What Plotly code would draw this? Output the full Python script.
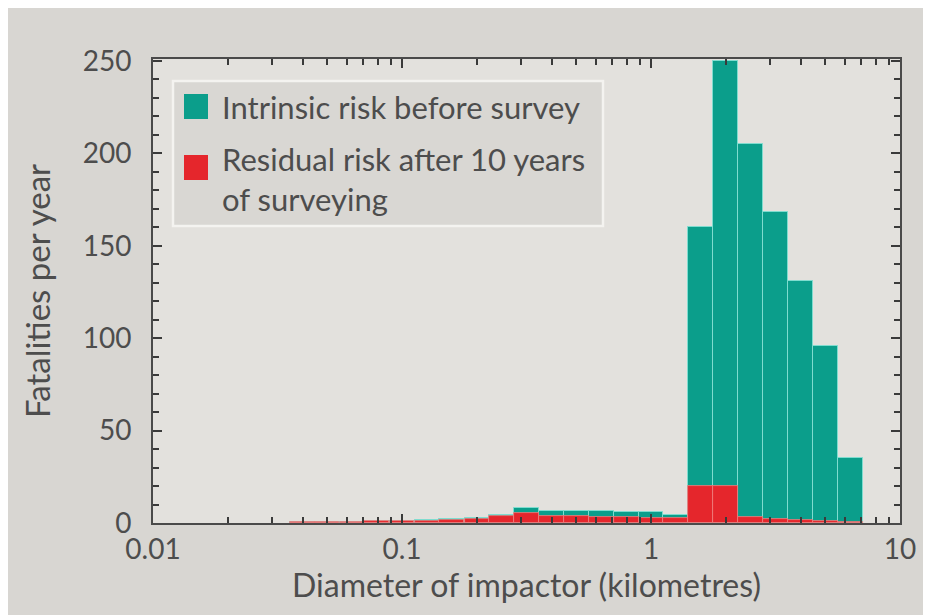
import numpy as np
import plotly.graph_objects as go

# Bin centres (km) of impactor diameter, log-spaced 0.1 dex
diameter_km = [0.040, 0.050, 0.063, 0.079, 0.100, 0.126, 0.158, 0.200, 0.251, 0.316,
               0.398, 0.501, 0.631, 0.794, 1.000, 1.259, 1.585, 1.995, 2.512,
               3.162, 3.981, 5.012, 6.310]
intrinsic = [0.3, 0.5, 0.8, 1.0, 1.3, 1.6, 2.0, 2.5, 4.5, 8.0,
             6.5, 6.5, 6.5, 6.0, 6.0, 4.5, 160, 250, 205,
             168, 131, 96, 35]
residual = [0.3, 0.5, 0.7, 0.9, 1.0, 1.2, 1.5, 2.0, 4.0, 5.5,
            4.0, 4.0, 3.0, 3.0, 2.5, 2.5, 20, 20, 3,
            2, 1.5, 1, 0.5]

x_tick_vals = [0.01, 0.1, 1, 10]
x_tick_text = ["0.01", "0.1", "1", "10"]
legend_names = ["Intrinsic risk before survey", "Residual risk after 10 years<br>of surveying"]

TEAL = "#0b9e8b"
RED = "#e5262c"
FONT = "Lato"
TXT = "#4d4d4d"

lx = np.log10(diameter_km)

fig = go.Figure()
fig.add_trace(go.Bar(x=lx, y=intrinsic, width=0.1, name=legend_names[0],
                     marker=dict(color=TEAL, line=dict(color="#7fdccf", width=1)),
                     showlegend=False))
fig.add_trace(go.Bar(x=lx, y=residual, width=0.1, name=legend_names[1],
                     marker=dict(color=RED, line=dict(color="#f08080", width=0.8)),
                     showlegend=False))

minor_vals = [np.log10(k * 10.0 ** n) for n in (-2, -1, 0) for k in range(2, 10)]

fig.update_layout(
    width=931, height=615,
    margin=dict(l=145, r=39, t=51, b=100),
    paper_bgcolor="#d8d6d2",
    plot_bgcolor="#e3e1dd",
    barmode="overlay", bargap=0,
    font=dict(family=FONT, color=TXT),
    xaxis=dict(range=[-2, 1], tickmode="array",
               tickvals=list(np.log10(x_tick_vals)), ticktext=x_tick_text,
               ticks="inside", ticklen=9, tickwidth=2, tickcolor="#3a3a3a",
               showline=True, linecolor="#4a4a4a", linewidth=2, mirror="allticks",
               showgrid=False, zeroline=False, ticklabelstandoff=0,
               tickfont=dict(size=28, family=FONT, color=TXT),
               minor=dict(tickmode="array", tickvals=minor_vals, ticks="inside",
                          ticklen=6, tickwidth=2, tickcolor="#3a3a3a", showgrid=False),
               title=dict(text="Diameter of impactor (kilometres)",
                          font=dict(size=32, family=FONT, color=TXT), standoff=11)),
    yaxis=dict(range=[0, 251], tickmode="linear", tick0=0, dtick=50,
               ticks="inside", ticklen=9, tickwidth=2, tickcolor="#3a3a3a",
               showline=True,
               linecolor="#4a4a4a", linewidth=2, mirror="allticks",
               showgrid=False, zeroline=False, ticklabelstandoff=14,
               tickfont=dict(size=28, family=FONT, color=TXT),
               minor=dict(dtick=10, ticks="inside", ticklen=6, tickwidth=2,
                          tickcolor="#3a3a3a", showgrid=False),
               title=dict(text="Fatalities per year",
                          font=dict(size=33, family=FONT, color=TXT), standoff=22)),
)

# Legend drawn as a framed box with colour keys
W, H = 747.0, 464.0
def px(x):
    return (x - 145) / W
def py(y):
    return (515 - y) / H

fig.add_shape(type="rect", xref="paper", yref="paper",
              x0=px(165), x1=px(595), y0=py(218), y1=py(73),
              line=dict(color="#f4f3f0", width=2.5), fillcolor="rgba(205,204,200,0.45)")
for (y0, y1), col in zip([(86, 111), (147, 172)], [TEAL, RED]):
    fig.add_shape(type="rect", xref="paper", yref="paper",
                  x0=px(176), x1=px(200), y0=py(y1), y1=py(y0),
                  line=dict(width=0), fillcolor=col)
for ytop, name in zip([99, 171], legend_names):
    fig.add_annotation(xref="paper", yref="paper", x=px(212), y=py(ytop),
                       xanchor="left", yanchor="middle", align="left",
                       text=name, showarrow=False,
                       font=dict(size=31, family=FONT, color=TXT))

fig.write_html("out.html")
